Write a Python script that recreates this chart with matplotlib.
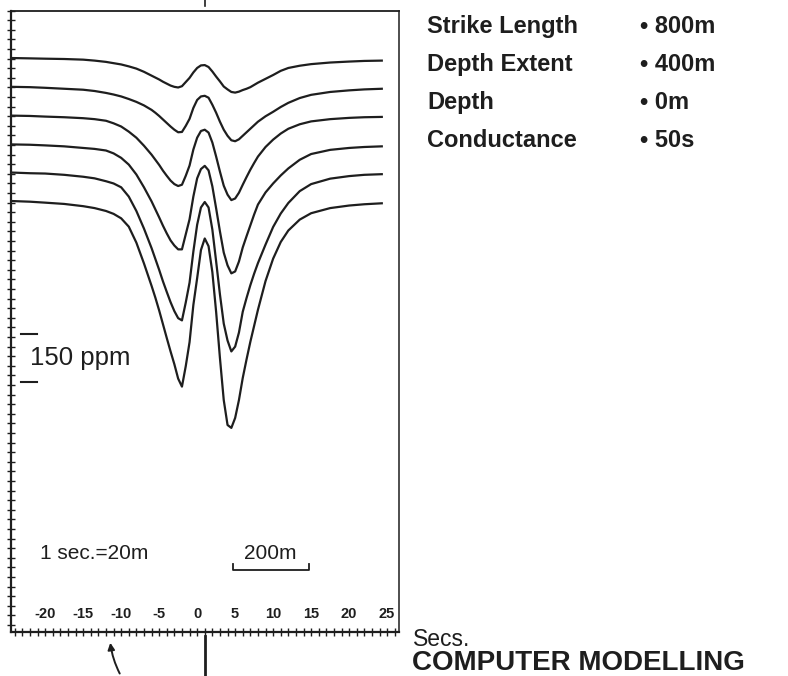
import matplotlib
matplotlib.use('Agg')
import matplotlib.pyplot as plt
from matplotlib.ticker import MultipleLocator
from matplotlib.lines import Line2D

plt.rcParams['font.family'] = ['Liberation Sans', 'DejaVu Sans']
plt.rcParams['axes.unicode_minus'] = False

INK = '#1e1e1e'

# station positions along the profile (seconds)
secs = [-24.3, -22, -20, -17.5, -15, -13.5, -12, -11, -10, -9, -8, -7, -6, -5.5, -5,
        -4.5, -4, -3.5, -3, -2.5, -2, -1.5, -1, -0.5, 0, 0.5, 1, 1.5, 2, 2.5,
        3, 3.5, 4, 4.5, 5, 5.5, 6, 6.5, 7, 7.5, 8, 9, 10, 11, 12,
        13.5, 15, 17.5, 20, 22, 24.3]

# response of each profile (ppm), top profile first
prof1 = [0, -1, -2, -3, -5, -8, -12, -16, -20, -26, -33, -43, -55, -61, -67,
         -74, -80, -86, -90, -92, -88, -75, -62, -45, -31, -23, -22, -28, -42, -58,
         -73, -89, -98, -106, -108, -105, -100, -96, -91, -84, -77, -65, -53, -40, -31,
         -24, -19, -14, -11, -9, -8]
prof2 = [0, -1, -3, -6, -9, -13, -19, -24, -30, -38, -47, -58, -72, -81, -91,
         -102, -113, -124, -134, -142, -141, -122, -100, -66, -41, -30, -28, -34, -56, -81,
         -109, -134, -153, -167, -170, -164, -153, -142, -131, -120, -109, -92, -78, -63, -50,
         -35, -25, -16, -11, -8, -6]
prof3 = [0, -1, -3, -5, -8, -11, -16, -24, -34, -50, -69, -94, -122, -138, -154,
         -172, -188, -203, -214, -220, -216, -188, -156, -106, -69, -48, -44, -53, -84, -128,
         -175, -219, -247, -264, -259, -241, -216, -192, -169, -148, -128, -98, -75, -56, -41,
         -27, -18, -11, -7, -5, -4]
prof4 = [0, -1, -3, -6, -11, -14, -19, -28, -42, -63, -94, -134, -178, -203, -228,
         -254, -278, -300, -316, -328, -328, -281, -234, -163, -106, -77, -67, -81, -131, -200,
         -272, -338, -378, -403, -397, -366, -322, -287, -253, -219, -188, -150, -122, -97, -75,
         -48, -30, -17, -11, -8, -6]
prof5 = [0, -2, -3, -7, -13, -18, -27, -34, -46, -75, -120, -175, -236, -270, -304,
         -340, -373, -405, -433, -455, -462, -406, -344, -247, -163, -109, -92, -109, -178, -278,
         -381, -472, -525, -559, -544, -500, -435, -392, -352, -316, -283, -225, -170, -128, -95,
         -58, -36, -19, -11, -7, -5]
prof6 = [0, -2, -5, -9, -16, -22, -31, -40, -54, -80, -130, -195, -265, -302, -342,
         -385, -428, -470, -510, -555, -580, -516, -441, -325, -241, -153, -117, -141, -222, -347,
         -491, -622, -700, -709, -678, -622, -553, -495, -440, -390, -340, -250, -180, -128, -92,
         -58, -38, -22, -14, -10, -7]
profiles = [prof1, prof2, prof3, prof4, prof5, prof6]
offsets = [-148, -238, -328, -418, -506, -595]

tick_secs = [-20, -15, -10, -5, 0, 5, 10, 15, 20, 25]

params = ['Strike Length', 'Depth Extent', 'Depth', 'Conductance']
param_vals = ['800m', '400m', '0m', '50s']

W, H = 788, 676
fig = plt.figure(figsize=(W / 100, H / 100), dpi=100)
fig.patch.set_facecolor('white')
ax = fig.add_axes([11 / W, 1 - 632 / H, (398.5 - 11) / W, (632 - 10.7) / H])

for prof, off in zip(profiles, offsets):
    ax.plot(secs, [off + v for v in prof], color=INK, lw=1.6,
            solid_joinstyle='round')

ax.set_xlim(-24.5, 26.5)
ax.set_ylim(-1942, 0)
ax.xaxis.set_major_locator(MultipleLocator(1))
ax.yaxis.set_major_locator(MultipleLocator(30))
ax.tick_params(direction='inout', length=6, width=1, color=INK,
               labelbottom=False, labelleft=False)
ax.spines['left'].set_linewidth(1.6)
ax.spines['bottom'].set_linewidth(1.6)
ax.spines['top'].set_linewidth(1.3)
ax.spines['right'].set_linewidth(1.1)
for s in ax.spines.values():
    s.set_color(INK)

# tick labels sit inside the frame
for t in tick_secs:
    ax.text(t, -1885, str(t), ha='center', va='center', fontsize=10.5,
            fontweight='bold', color=INK)

# 150 ppm scale bar
ax.plot([-23.2, -21.1], [-1010, -1010], color=INK, lw=1.5)
ax.plot([-23.2, -21.1], [-1160, -1160], color=INK, lw=1.5)
ax.text(-22.0, -1085, '150 ppm', ha='left', va='center', fontsize=18.5, color=INK)

# distance scale
ax.text(-20.7, -1698, '1 sec.=20m', ha='left', va='center', fontsize=15, color=INK)
ax.text(9.6, -1698, '200m', ha='center', va='center', fontsize=15, color=INK)
ax.plot([4.7, 4.7, 14.7, 14.7], [-1730, -1748, -1748, -1730], color=INK, lw=1.3)

# parameter list
for i, (name, val) in enumerate(zip(params, param_vals)):
    yb = 1 - (33 + 38 * i) / H
    fig.text(427 / W, yb, name, ha='left', va='baseline', fontsize=17,
             fontweight='bold', color=INK)
    fig.text(640 / W, yb, '\u2022 ' + val, ha='left', va='baseline', fontsize=17,
             fontweight='bold', color=INK)

fig.text(413 / W, 1 - 646 / H, 'Secs.', ha='left', va='baseline', fontsize=16.5, color=INK)
fig.text(412 / W, 0.5 / H, 'COMPUTER MODELLING', ha='left', va='bottom',
         fontsize=20, fontweight='bold', color=INK)

# marks below and above the frame
fig.add_artist(Line2D([205 / W, 205 / W], [0, 40 / H], lw=2, color=INK))
fig.add_artist(Line2D([205 / W, 205 / W], [1 - 6 / H, 1], lw=1.2, color=INK))
ax.annotate('', xy=(110, 36), xycoords='figure pixels', xytext=(121, 0),
            textcoords='figure pixels',
            arrowprops=dict(arrowstyle='-|>', lw=1.4, color=INK,
                            connectionstyle='arc3,rad=-0.1'))

fig.savefig('out.png', dpi=100, facecolor='white')
